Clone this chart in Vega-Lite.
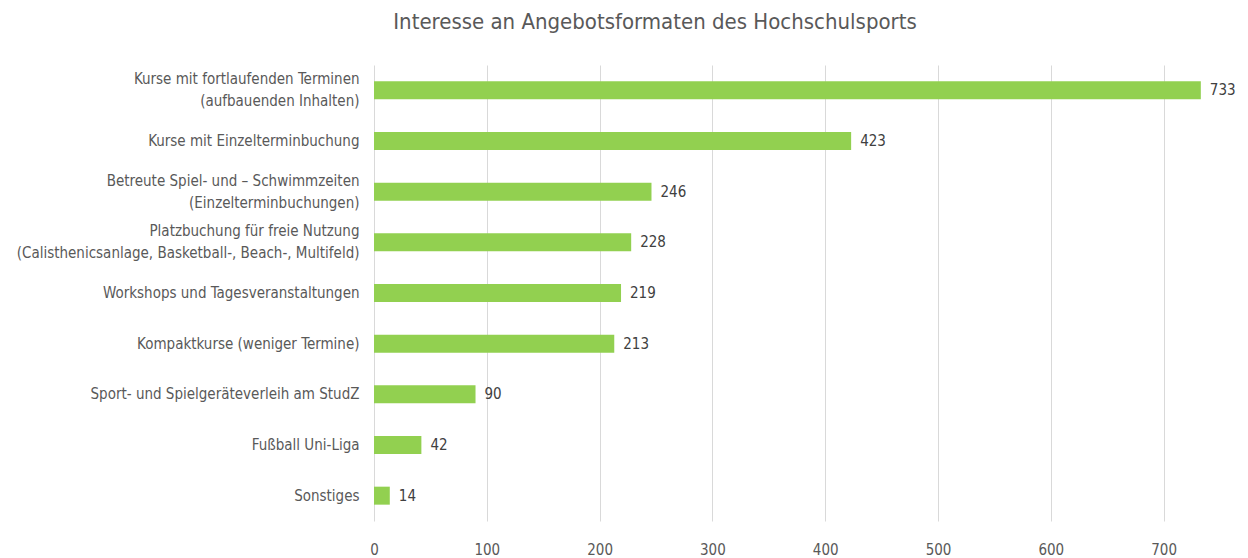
{
  "$schema": "https://vega.github.io/schema/vega-lite/v6.json",
  "autosize": {"type": "none"},
  "padding": {"left": 374, "top": 65, "right": 28, "bottom": 37},
  "width": 846,
  "height": 456,
  "background": "white",
  "config": {
    "font": "DejaVu Sans Condensed, sans-serif",
    "view": {"stroke": null}
  },
  "title": {
    "text": "Interesse an Angebotsformaten des Hochschulsports",
    "fontSize": 22,
    "fontWeight": "normal",
    "color": "#595959",
    "anchor": "middle",
    "frame": "group",
    "dx": -142,
    "offset": 31
  },
  "data": {
    "values": [
      {"kategorie": "Kurse mit fortlaufenden Terminen|(aufbauenden Inhalten)", "anzahl": 733},
      {"kategorie": "Kurse mit Einzelterminbuchung", "anzahl": 423},
      {"kategorie": "Betreute Spiel- und – Schwimmzeiten|(Einzelterminbuchungen)", "anzahl": 246},
      {"kategorie": "Platzbuchung für freie Nutzung|(Calisthenicsanlage, Basketball-, Beach-, Multifeld)", "anzahl": 228},
      {"kategorie": "Workshops und Tagesveranstaltungen", "anzahl": 219},
      {"kategorie": "Kompaktkurse (weniger Termine)", "anzahl": 213},
      {"kategorie": "Sport- und Spielgeräteverleih am StudZ", "anzahl": 90},
      {"kategorie": "Fußball Uni-Liga", "anzahl": 42},
      {"kategorie": "Sonstiges", "anzahl": 14}
    ]
  },
  "encoding": {
    "y": {
      "field": "kategorie",
      "type": "nominal",
      "sort": {"field": "anzahl", "order": "descending"},
      "scale": {"paddingInner": 0.645, "paddingOuter": 0.3225},
      "axis": {
        "title": null,
        "labelExpr": "split(datum.label, '|')",
        "labelFontSize": 15,
        "labelColor": "#595959",
        "labelPadding": 15,
        "labelLineHeight": 22,
        "labelOffset": {"condition": {"test": "indexof(datum.value, '|') >= 0", "value": -11}, "value": 0},
        "labelLimit": 400,
        "ticks": false,
        "domain": false,
        "grid": false
      }
    },
    "x": {
      "field": "anzahl",
      "type": "quantitative",
      "scale": {"domain": [0, 750], "nice": false},
      "axis": {
        "title": null,
        "values": [0, 100, 200, 300, 400, 500, 600, 700],
        "labelFontSize": 15,
        "labelColor": "#595959",
        "labelPadding": 21,
        "labelFlush": false,
        "ticks": false,
        "domain": false,
        "grid": true,
        "gridColor": "#d9d9d9",
        "gridWidth": 1
      }
    }
  },
  "layer": [
    {"mark": {"type": "bar", "color": "#92d050"}},
    {
      "mark": {"type": "text", "align": "left", "dx": 9, "fontSize": 15, "color": "#404040"},
      "encoding": {"text": {"field": "anzahl", "type": "quantitative"}}
    }
  ]
}
